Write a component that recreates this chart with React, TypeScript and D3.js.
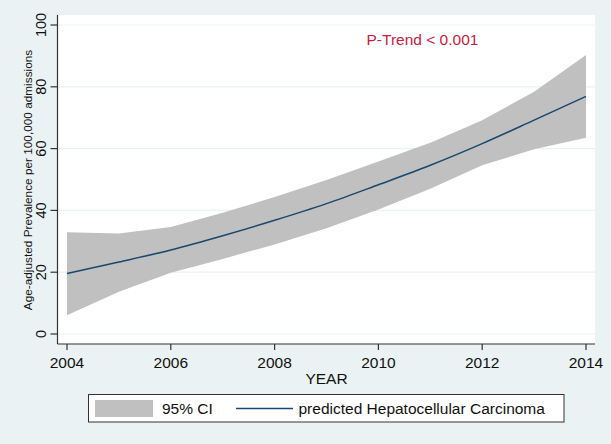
import React from "react";
import * as d3 from "d3";

const years = [2004, 2005, 2006, 2007, 2008, 2009, 2010, 2011, 2012, 2013, 2014];
const predicted = [19.6, 23.3, 27.2, 31.8, 36.8, 42.2, 48.3, 54.6, 61.6, 69.2, 76.9];
const upperCI = [32.9, 32.5, 34.6, 39.2, 44.3, 49.8, 55.8, 61.9, 69.2, 78.4, 90.3];
const lowerCI = [6.1, 13.7, 19.8, 24.3, 29.0, 34.2, 40.3, 47.0, 54.6, 59.8, 63.5];
const xTicks = [2004, 2006, 2008, 2010, 2012, 2014];
const yTicks = [0, 20, 40, 60, 80, 100];

const W = 611;
const H = 444;
const FONT = "'Liberation Sans', Arial, Helvetica, sans-serif";

export default function App() {
  const x = d3.scaleLinear().domain([2004, 2014]).range([67, 586]);
  const y = d3.scaleLinear().domain([0, 100]).range([334, 25]);
  const rows = years.map((yr, i) => ({ yr, p: predicted[i], lo: lowerCI[i], hi: upperCI[i] }));
  const area = d3
    .area<any>()
    .x((d) => x(d.yr))
    .y0((d) => y(d.lo))
    .y1((d) => y(d.hi));
  const line = d3
    .line<any>()
    .x((d) => x(d.yr))
    .y((d) => y(d.p))
    .curve(d3.curveMonotoneX);

  const plotLeft = 57.5;
  const plotRight = 595;
  const plotTop = 15;
  const plotBottom = 344;

  return (
    <svg
      width={W}
      height={H}
      style={{ position: "absolute", left: 0, top: 0, display: "block" }}
      fontFamily={FONT}
    >
      <rect x={0} y={0} width={W} height={H} fill="#EAF2F3" />
      <rect x={plotLeft} y={plotTop} width={plotRight - plotLeft} height={plotBottom - plotTop} fill="#FFFFFF" />
      {yTicks.map((t) => (
        <line key={"g" + t} x1={plotLeft} x2={plotRight} y1={y(t)} y2={y(t)} stroke="#EAF2F3" strokeWidth={1.2} />
      ))}
      <path d={area(rows) || ""} fill="#C0C0C0" />
      <path d={line(rows) || ""} fill="none" stroke="#1A476F" strokeWidth={1.5} />
      {/* axes */}
      <line x1={plotLeft} x2={plotLeft} y1={plotTop} y2={plotBottom} stroke="#333333" strokeWidth={1.2} />
      <line x1={plotLeft} x2={plotRight} y1={plotBottom} y2={plotBottom} stroke="#333333" strokeWidth={1.2} />
      {yTicks.map((t) => (
        <g key={"y" + t}>
          <line x1={plotLeft - 7} x2={plotLeft} y1={y(t)} y2={y(t)} stroke="#333333" strokeWidth={1.2} />
          <text
            transform={`translate(45.5,${y(t)}) rotate(-90)`}
            textAnchor="middle"
            fontSize={14.5}
            fill="#111"
          >
            {t}
          </text>
        </g>
      ))}
      {xTicks.map((t) => (
        <g key={"x" + t}>
          <line x1={x(t)} x2={x(t)} y1={plotBottom} y2={plotBottom + 6} stroke="#333333" strokeWidth={1.2} />
          <text x={x(t)} y={368} textAnchor="middle" fontSize={15.5} fill="#111">
            {t}
          </text>
        </g>
      ))}
      <text x={326.5} y={383.5} textAnchor="middle" fontSize={15.5} fill="#111">
        YEAR
      </text>
      <text
        transform={`translate(31.5,${180}) rotate(-90)`}
        textAnchor="middle"
        fontSize={11.8}
        fill="#111"
      >
        Age-adjusted Prevalence per 100,000 admissions
      </text>
      <text x={366.5} y={44.5} fontSize={15.5} fill="#C8203F">
        P-Trend &lt; 0.001
      </text>
      {/* legend */}
      <rect x={88.5} y={394.5} width={475.5} height={27.5} fill="#FFFFFF" stroke="#333333" strokeWidth={1} />
      <rect x={95} y={400} width={58} height={17} fill="#C0C0C0" />
      <text x={162} y={414} fontSize={15.5} fill="#111">
        95% CI
      </text>
      <line x1={236} x2={293} y1={408.5} y2={408.5} stroke="#1A476F" strokeWidth={1.5} />
      <text x={298.5} y={414} fontSize={15.5} fill="#111">
        predicted Hepatocellular Carcinoma
      </text>
    </svg>
  );
}
